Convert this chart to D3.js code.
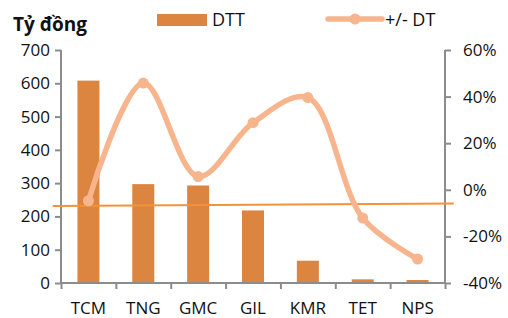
<!DOCTYPE html>
<html>
<head>
<meta charset="utf-8">
<script src="https://cdn.jsdelivr.net/npm/d3@7.9.0/dist/d3.min.js"></script>
<style>
  body { margin: 0; background: #fff; }
  svg text { font-family: "Open Sans", "Noto Sans", sans-serif; fill: #111; }
</style>
</head>
<body>
<div id="chart"></div>
<script>
// data
const companies = ["TCM", "TNG", "GMC", "GIL", "KMR", "TET", "NPS"];
const revenue = [608, 297, 293, 218, 67, 11, 9];          // DTT, tỷ đồng
const growth = [-4.7, 45.8, 5.7, 28.8, 39.6, -12.1, -29.7]; // +/- DT, %
const leftTicks = [0, 100, 200, 300, 400, 500, 600, 700];
const rightTicks = [-40, -20, 0, 20, 40, 60];
// orange reference line (left axis units), from just left of first band to past the last
const refLineX = [-0.15, 7.16];
const refLineY = [231, 239];

const width = 508, height = 318;
const margin = { top: 50, right: 63, bottom: 35, left: 61 };
const area = {
    left: margin.left,
    right: width - margin.right,
    top: margin.top,
    bottom: height - margin.bottom
};

const svg = d3.select("#chart").append("svg")
    .attr("width", width)
    .attr("height", height);

// scales: category index -> x
const xIdx = d3.scaleLinear().domain([0, companies.length]).range([area.left, area.right]);
const yL = d3.scaleLinear().domain([0, 700]).range([area.bottom, area.top]);
const yR = d3.scaleLinear().domain([-40, 60]).range([area.bottom, area.top]);

const axisColor = "#8c8c8c";

// bars
svg.append("g").selectAll("rect")
    .data(revenue)
    .join("rect")
    .attr("x", (d, i) => xIdx(i + 0.5) - 11)
    .attr("width", 22)
    .attr("y", d => yL(d))
    .attr("height", d => yL(0) - yL(d))
    .attr("fill", "#DC8541");

// left axis
const gL = svg.append("g")
    .attr("transform", `translate(${area.left},0)`)
    .call(d3.axisLeft(yL).tickValues(leftTicks).tickSize(6).tickPadding(5));
// right axis
const gR = svg.append("g")
    .attr("transform", `translate(${area.right},0)`)
    .call(d3.axisRight(yR).tickValues(rightTicks).tickSize(6).tickPadding(12).tickFormat(d => d + "%"));
// bottom axis with ticks at band boundaries
const gB = svg.append("g")
    .attr("transform", `translate(0,${area.bottom})`)
    .call(d3.axisBottom(xIdx).tickValues(d3.range(0, companies.length + 1)).tickSize(6).tickFormat(""));

[gL, gR, gB].forEach(g => {
    g.selectAll("path.domain").attr("stroke", axisColor).attr("stroke-width", 2);
    g.selectAll(".tick line").attr("stroke", axisColor).attr("stroke-width", 2);
    g.selectAll("text").style("font-size", "17px").attr("fill", "#111");
});
gL.select("path.domain").attr("d", `M-0,${area.top}V${area.bottom}`);
gR.select("path.domain").attr("d", `M0,${area.top}V${area.bottom}`);
gB.select("path.domain").attr("d", `M${area.left},0H${area.right}`);

// category labels
svg.append("g").selectAll("text")
    .data(companies)
    .join("text")
    .attr("x", (d, i) => xIdx(i + 0.5))
    .attr("y", height - 4)
    .attr("text-anchor", "middle")
    .style("font-size", "17px")
    .text(d => d);

// reference line
svg.append("line")
    .attr("x1", xIdx(refLineX[0]))
    .attr("x2", xIdx(refLineX[1]))
    .attr("y1", yL(refLineY[0]))
    .attr("y2", yL(refLineY[1]))
    .attr("stroke", "#F39238")
    .attr("stroke-width", 2);

// growth line (smoothed)
const lineColor = "#F7B58E";
const line = d3.line()
    .x((d, i) => xIdx(i + 0.5))
    .y(d => yR(d))
    .curve(d3.curveCatmullRom.alpha(0.5));

svg.append("path")
    .datum(growth)
    .attr("fill", "none")
    .attr("stroke", lineColor)
    .attr("stroke-width", 5.5)
    .attr("stroke-linecap", "round")
    .attr("d", line);

svg.append("g").selectAll("circle")
    .data(growth)
    .join("circle")
    .attr("cx", (d, i) => xIdx(i + 0.5))
    .attr("cy", d => yR(d))
    .attr("r", 5.5)
    .attr("fill", lineColor);

// title
svg.append("text")
    .attr("x", 13)
    .attr("y", 31)
    .style("font-size", "19px")
    .style("font-weight", "bold")
    .text("Tỷ đồng");

// legend
const legend = svg.append("g");
legend.append("rect")
    .attr("x", 157).attr("y", 14)
    .attr("width", 50).attr("height", 12)
    .attr("fill", "#DC8541");
legend.append("text")
    .attr("x", 212).attr("y", 26)
    .style("font-size", "18px")
    .text("DTT");
legend.append("line")
    .attr("x1", 328).attr("x2", 382)
    .attr("y1", 19).attr("y2", 19)
    .attr("stroke", lineColor)
    .attr("stroke-width", 5.5)
    .attr("stroke-linecap", "round");
legend.append("circle")
    .attr("cx", 355).attr("cy", 19).attr("r", 5.5)
    .attr("fill", lineColor);
legend.append("text")
    .attr("x", 385).attr("y", 26)
    .style("font-size", "18px")
    .text("+/- DT");
</script>
</body>
</html>
